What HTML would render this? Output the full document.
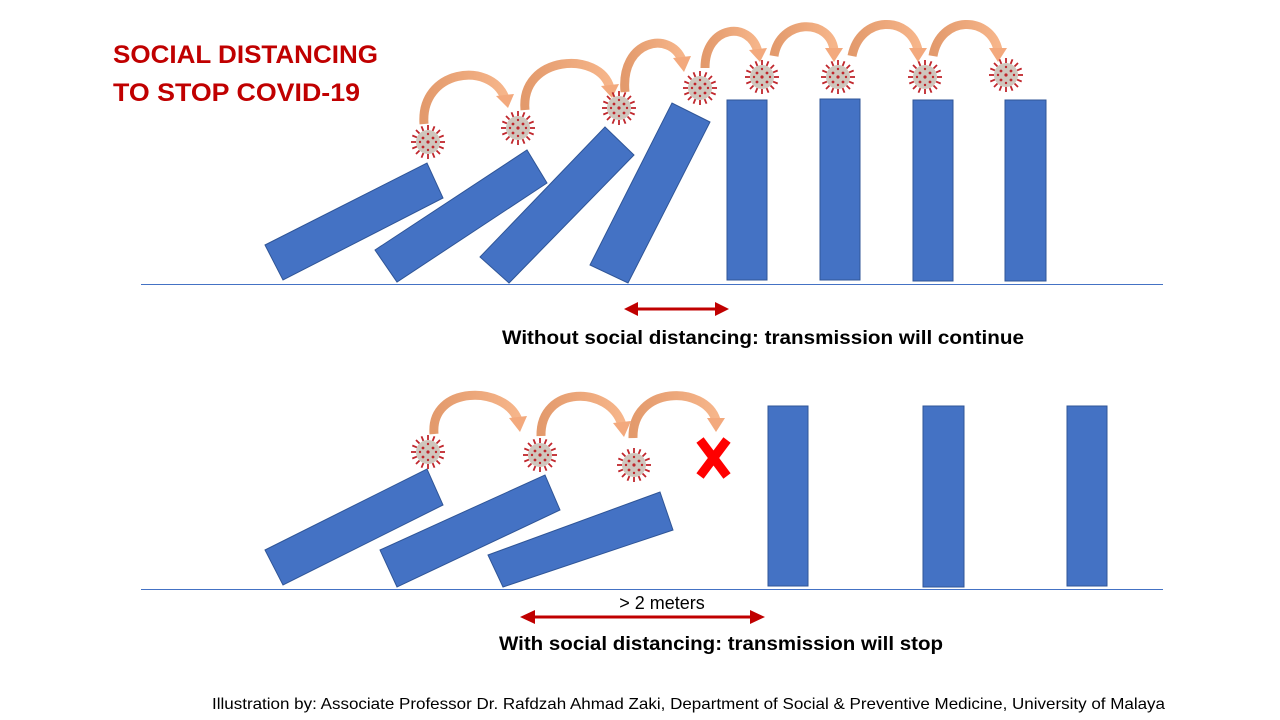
<!DOCTYPE html>
<html><head><meta charset="utf-8"><style>
body{margin:0;background:#fff}
svg{display:block}
text{font-family:"Liberation Sans",sans-serif}
</style></head><body>
<svg width="1280" height="720" viewBox="0 0 1280 720" xmlns="http://www.w3.org/2000/svg">
<defs>
<g id="v">
  <g stroke="#c0262c" stroke-width="1.8">
    <line x1="0" y1="-12" x2="0" y2="-17"/><line x1="0" y1="12" x2="0" y2="17"/>
    <line x1="-12" y1="0" x2="-17" y2="0"/><line x1="12" y1="0" x2="17" y2="0"/>
    <line x1="8.5" y1="8.5" x2="12" y2="12"/><line x1="-8.5" y1="-8.5" x2="-12" y2="-12"/>
    <line x1="8.5" y1="-8.5" x2="12" y2="-12"/><line x1="-8.5" y1="8.5" x2="-12" y2="12"/>
    <line x1="4.6" y1="11" x2="6.5" y2="15.7"/><line x1="-4.6" y1="-11" x2="-6.5" y2="-15.7"/>
    <line x1="11" y1="4.6" x2="15.7" y2="6.5"/><line x1="-11" y1="-4.6" x2="-15.7" y2="-6.5"/>
    <line x1="-4.6" y1="11" x2="-6.5" y2="15.7"/><line x1="4.6" y1="-11" x2="6.5" y2="-15.7"/>
    <line x1="-11" y1="4.6" x2="-15.7" y2="6.5"/><line x1="11" y1="-4.6" x2="15.7" y2="-6.5"/>
  </g>
  <circle r="12" fill="#cfc6bd"/>
  <g fill="#c0262c"><circle r="1.6"/><circle cx="-5" cy="-4" r="1.4"/><circle cx="5" cy="-4" r="1.4"/><circle cx="-5" cy="5" r="1.4"/><circle cx="5" cy="5" r="1.4"/><circle cx="0" cy="-8" r="1.2"/><circle cx="0" cy="8" r="1.2"/><circle cx="-8" cy="0" r="1.2"/><circle cx="8" cy="0" r="1.2"/></g>
</g>
<linearGradient id="ag" x1="0" y1="0" x2="1" y2="0"><stop offset="0" stop-color="#e39a6c"/><stop offset="1" stop-color="#f6b58a"/></linearGradient>
</defs>

<text x="113" y="63" font-size="25" font-weight="bold" fill="#c00000" textLength="265" lengthAdjust="spacingAndGlyphs">SOCIAL DISTANCING</text>
<text x="113" y="101" font-size="25" font-weight="bold" fill="#c00000" textLength="247" lengthAdjust="spacingAndGlyphs">TO STOP COVID-19</text>

<!-- top row -->
<line x1="141" y1="284.5" x2="1163" y2="284.5" stroke="#4472c4" stroke-width="1"/>
<g fill="#4472c4" stroke="#2f5597" stroke-width="1">
<polygon points="265,245 427,163 443,198 283,280"/>
<polygon points="375,250 527,150 547,183 397,282"/>
<polygon points="480,257 605,127 634,155 509,283"/>
<polygon points="590,265 672,103 710,122 628,283"/>
<rect x="727" y="100" width="40" height="180"/>
<rect x="820" y="99" width="40" height="181"/>
<rect x="913" y="100" width="40" height="181"/>
<rect x="1005" y="100" width="41" height="181"/>
</g>
<g fill="none" stroke="url(#ag)" stroke-width="9">
<path d="M424,124 C420,70 490,60 505,98"/>
<path d="M525,110 C520,55 600,50 610,88"/>
<path d="M625,92 C620,40 670,30 682,60"/>
<path d="M705,68 C705,25 750,20 758,52"/>
<path d="M774,56 C780,18 830,18 834,50"/>
<path d="M852,56 C860,15 910,15 918,50"/>
<path d="M933,56 C940,15 990,15 998,50"/>
</g>
<g fill="#f3a97d">
<polygon points="496,96 514,94 508,108"/>
<polygon points="601,86 619,84 612,98"/>
<polygon points="673,58 691,56 684,72"/>
<polygon points="749,50 767,48 760,62"/>
<polygon points="825,48 843,48 834,62"/>
<polygon points="909,48 927,48 918,62"/>
<polygon points="989,48 1007,48 998,62"/>
</g>
<use href="#v" x="428" y="142"/><use href="#v" x="518" y="128"/><use href="#v" x="619" y="108"/><use href="#v" x="700" y="88"/>
<use href="#v" x="762" y="77"/><use href="#v" x="838" y="77"/><use href="#v" x="925" y="77"/><use href="#v" x="1006" y="75"/>

<line x1="636" y1="309" x2="717" y2="309" stroke="#c00000" stroke-width="3"/>
<polygon points="624,309 638,302 638,316" fill="#c00000"/>
<polygon points="729,309 715,302 715,316" fill="#c00000"/>
<text x="502" y="344" font-size="19" font-weight="bold" fill="#000" textLength="522" lengthAdjust="spacingAndGlyphs">Without social distancing: transmission will continue</text>

<!-- bottom row -->
<line x1="141" y1="589.5" x2="1163" y2="589.5" stroke="#4472c4" stroke-width="1"/>
<g fill="#4472c4" stroke="#2f5597" stroke-width="1">
<polygon points="265,550 427,469 443,505 283,585"/>
<polygon points="380,550 545,475 560,510 397,587"/>
<polygon points="488,555 660,492 673,530 503,587"/>
<rect x="768" y="406" width="40" height="180"/>
<rect x="923" y="406" width="41" height="181"/>
<rect x="1067" y="406" width="40" height="180"/>
</g>
<g fill="none" stroke="url(#ag)" stroke-width="9">
<path d="M434,434 C430,385 505,385 518,420"/>
<path d="M541,436 C540,385 610,385 622,425"/>
<path d="M633,438 C632,385 705,385 716,420"/>
</g>
<g fill="#f3a97d">
<polygon points="509,418 527,416 520,432"/>
<polygon points="613,423 631,421 624,437"/>
<polygon points="707,418 725,418 716,432"/>
</g>
<use href="#v" x="428" y="452"/><use href="#v" x="540" y="455"/><use href="#v" x="634" y="465"/>
<g stroke="#ff0000" stroke-width="9" stroke-linecap="butt">
<line x1="700" y1="440" x2="727" y2="476"/><line x1="727" y1="440" x2="700" y2="476"/>
</g>

<line x1="533" y1="617" x2="752" y2="617" stroke="#c00000" stroke-width="3"/>
<polygon points="520,617 535,610 535,624" fill="#c00000"/>
<polygon points="765,617 750,610 750,624" fill="#c00000"/>
<text x="662" y="609" font-size="18" text-anchor="middle" fill="#000">&gt; 2 meters</text>
<text x="499" y="650" font-size="19" font-weight="bold" fill="#000" textLength="444" lengthAdjust="spacingAndGlyphs">With social distancing: transmission will stop</text>

<text x="212" y="709" font-size="16" fill="#000" textLength="953" lengthAdjust="spacingAndGlyphs">Illustration by: Associate Professor Dr. Rafdzah Ahmad Zaki, Department of Social &amp; Preventive Medicine, University of Malaya</text>
</svg>
</body></html>
